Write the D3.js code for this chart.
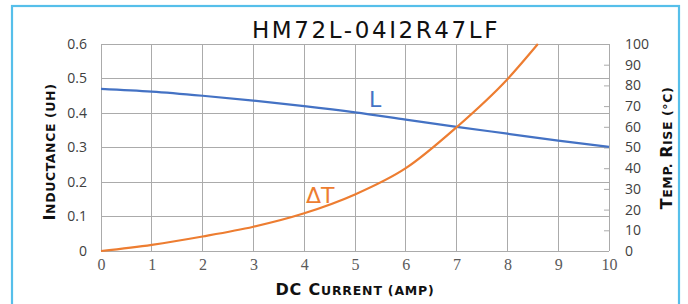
<!DOCTYPE html>
<html><head><meta charset="utf-8">
<script src="https://cdn.jsdelivr.net/npm/d3@7"></script>
<style>body{margin:0;background:#fff}svg{display:block}</style>
</head><body>
<svg id="c" width="688" height="304"></svg>
<script>
const title = "HM72L-04I2R47LF";
const currentTicks = [0,1,2,3,4,5,6,7,8,9,10];
const inductanceTicks = [0,0.1,0.2,0.3,0.4,0.5,0.6];
const tempTicks = [0,10,20,30,40,50,60,70,80,90,100];
const lCurrent = [0,1,2,3,4,5,6,7,8,9,10];
const lValues = [0.47,0.462,0.45,0.436,0.42,0.402,0.381,0.36,0.34,0.32,0.302];
const tCurrent = [0,1,2,3,4,5,6,7,8,8.6];
const tValues = [0,3,7,11.7,18.2,27.3,40,59.8,83,100];

const svg = d3.select("#c");
const L = 101, R = 609, T = 44, B = 251;
const x = d3.scaleLinear().domain([0,10]).range([L,R]);
const yL = d3.scaleLinear().domain([0,0.6]).range([B,T]);
const yT = d3.scaleLinear().domain([0,100]).range([B,T]);

// frame
svg.append("rect").attr("x",12).attr("y",6).attr("width",667).attr("height",310)
  .attr("fill","none").attr("stroke","#56bfea").attr("stroke-width",2.2);

const gridC = "#ababab";
// grid
svg.append("g").selectAll("line").data(currentTicks).join("line")
  .attr("x1",d=>x(d)).attr("x2",d=>x(d)).attr("y1",T).attr("y2",B)
  .attr("stroke",gridC).attr("stroke-width",1).attr("shape-rendering","crispEdges");
svg.append("g").selectAll("line").data(inductanceTicks).join("line")
  .attr("x1",L).attr("x2",R).attr("y1",d=>yL(d)).attr("y2",d=>yL(d))
  .attr("stroke",gridC).attr("stroke-width",1).attr("shape-rendering","crispEdges");

// axes
const fontS = "'Open Sans', 'DejaVu Sans', sans-serif";
const axL = svg.append("g").attr("transform",`translate(${L},0)`)
  .call(d3.axisLeft(yL).tickValues(inductanceTicks).tickSize(0).tickPadding(14).tickFormat(d=>d===0?"0":d3.format(".1f")(d)));
axL.select(".domain").remove();
axL.selectAll("text").attr("font-family",fontS).attr("font-size",14).attr("fill","#404040");

const axR = svg.append("g").attr("transform",`translate(${R},0)`)
  .call(d3.axisRight(yT).tickValues(tempTicks).tickSize(-5).tickPadding(16));
axR.select(".domain").remove();
axR.selectAll("line").attr("stroke",gridC);
axR.selectAll("text").attr("font-family",fontS).attr("font-size",14).attr("fill","#404040");

const axB = svg.append("g").attr("transform",`translate(0,${B})`)
  .call(d3.axisBottom(x).tickValues(currentTicks).tickSize(0).tickPadding(8).tickFormat(d3.format("d")));
axB.select(".domain").remove();
axB.selectAll("text").attr("font-family","'Liberation Serif', serif").attr("font-size",16).attr("fill","#5a5a5a");

// lines
const lineL = d3.line().x(d=>x(d[0])).y(d=>yL(d[1])).curve(d3.curveMonotoneX);
const lineT = d3.line().x(d=>x(d[0])).y(d=>yT(d[1])).curve(d3.curveMonotoneX);
svg.append("path").attr("d",lineL(d3.zip(lCurrent,lValues)))
  .attr("fill","none").attr("stroke","#4472c4").attr("stroke-width",2.2);
svg.append("path").attr("d",lineT(d3.zip(tCurrent,tValues)))
  .attr("fill","none").attr("stroke","#ed7d31").attr("stroke-width",2.2);

// series labels
svg.append("text").attr("x",369).attr("y",107).text("L")
  .attr("font-family","'DejaVu Sans', sans-serif").attr("font-size",22).attr("fill","#4472c4");
svg.append("text").attr("x",306).attr("y",203).text("ΔT")
  .attr("font-family","'DejaVu Sans', sans-serif").attr("font-size",22).attr("fill","#ed7d31");

// title
svg.append("text").attr("x",376).attr("y",38).attr("text-anchor","middle").text(title)
  .attr("font-family","'DejaVu Sans', sans-serif").attr("font-size",23).attr("letter-spacing",2.6).attr("fill","#111");

// axis titles with small caps
function smallCaps(sel, parts, big, small){
  parts.forEach(p=>{
    sel.append("tspan").attr("font-size",p[1]?big:small).text(p[0]);
  });
}
const tf = "'DejaVu Sans', sans-serif";
const xt = svg.append("text").attr("x",355).attr("y",295).attr("text-anchor","middle")
  .attr("font-family",tf).attr("font-weight","bold").attr("letter-spacing",0.8).attr("fill","#111");
smallCaps(xt, [["D",1],["C",1],[" ",1],["C",1],["URRENT (AMP)",0]], 16, 12.5);

const yt = svg.append("text").attr("transform","translate(55,152) rotate(-90)").attr("text-anchor","middle")
  .attr("font-family",tf).attr("font-weight","bold").attr("letter-spacing",0.6).attr("fill","#111");
smallCaps(yt, [["I",1],["NDUCTANCE (UH)",0]], 16, 12.5);

const rt = svg.append("text").attr("transform","translate(672,148) rotate(-90)").attr("text-anchor","middle")
  .attr("font-family",tf).attr("font-weight","bold").attr("letter-spacing",0.6).attr("fill","#111");
smallCaps(rt, [["T",1],["EMP. ",0],["R",1],["ISE (°C)",0]], 16, 12.5);
</script>
</body></html>
